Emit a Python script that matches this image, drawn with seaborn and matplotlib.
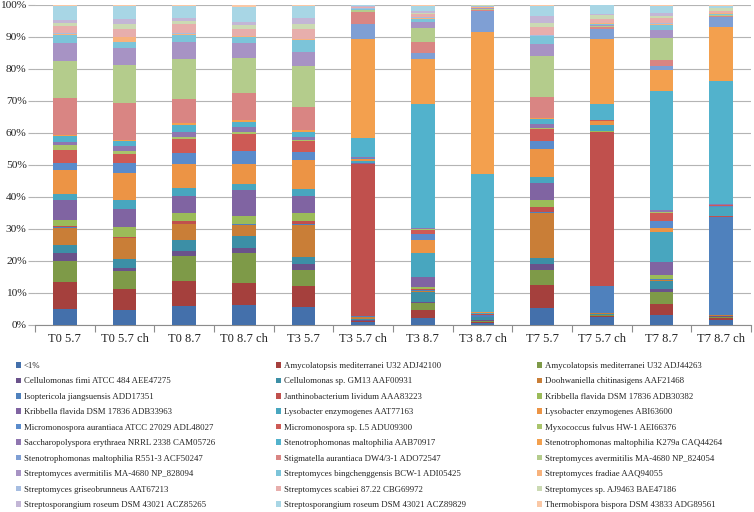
import numpy as np
import pandas as pd
import matplotlib
matplotlib.use("Agg")
import matplotlib.pyplot as plt
import seaborn as sns
from matplotlib.patches import Patch
from matplotlib.ticker import FuncFormatter, FixedLocator

samples = ["T0 5.7", "T0 5.7 ch", "T0 8.7", "T0 8.7 ch", "T3 5.7", "T3 5.7 ch",
           "T3 8.7", "T3 8.7 ch", "T7 5.7", "T7 5.7 ch", "T7 8.7", "T7 8.7 ch"]

species = [
    "<1%",
    "Amycolatopsis mediterranei U32 ADJ42100",
    "Amycolatopsis mediterranei U32 ADJ44263",
    "Cellulomonas fimi ATCC 484 AEE47275",
    "Cellulomonas sp. GM13 AAF00931",
    "Doohwaniella chitinasigens AAF21468",
    "Isoptericola jiangsuensis ADD17351",
    "Janthinobacterium lividum AAA83223",
    "Kribbella flavida DSM 17836 ADB30382",
    "Kribbella flavida DSM 17836 ADB33963",
    "Lysobacter enzymogenes AAT77163",
    "Lysobacter enzymogenes ABI63600",
    "Micromonospora aurantiaca ATCC 27029 ADL48027",
    "Micromonospora sp. L5 ADU09300",
    "Myxococcus fulvus HW-1 AEI66376",
    "Saccharopolyspora erythraea NRRL 2338 CAM05726",
    "Stenotrophomonas maltophilia AAB70917",
    "Stenotrophomonas maltophilia K279a CAQ44264",
    "Stenotrophomonas maltophilia R551-3 ACF50247",
    "Stigmatella aurantiaca DW4/3-1 ADO72547",
    "Streptomyces avermitilis MA-4680 NP_824054",
    "Streptomyces avermitilis MA-4680 NP_828094",
    "Streptomyces bingchenggensis BCW-1 ADI05425",
    "Streptomyces fradiae AAQ94055",
    "Streptomyces griseobrunneus AAT67213",
    "Streptomyces scabiei 87.22 CBG69972",
    "Streptomyces sp. AJ9463 BAE47186",
    "Streptosporangium roseum DSM 43021 ACZ85265",
    "Streptosporangium roseum DSM 43021 ACZ89829",
    "Thermobispora bispora DSM 43833 ADG89561",
]

# relative abundance (%) of each species, same order as above
t0_57 = [5.0, 8.5, 6.6, 2.5, 2.5, 5.3, 0.3, 0.3, 2.0, 6.1, 2.0, 7.4, 2.3, 4.0, 1.4,
         1.2, 1.7, 0.3, 0.1, 11.6, 11.4, 5.8, 2.5, 0.2, 0.2, 2.2, 1.0, 1.0, 4.5, 0.2]
t0_57ch = [4.7, 6.6, 5.5, 1.2, 2.7, 6.5, 0.1, 0.3, 3.3, 5.6, 2.7, 8.6, 3.1, 2.9, 0.7,
           1.7, 1.4, 0.4, 0.1, 11.4, 12.1, 5.3, 1.9, 1.5, 0.1, 2.4, 1.7, 1.5, 4.2, 0.2]
t0_87 = [5.9, 7.9, 7.8, 1.5, 3.4, 5.1, 0.1, 0.8, 2.5, 5.5, 2.3, 7.5, 3.6, 4.2, 0.7,
         1.6, 2.1, 0.8, 0.1, 7.3, 12.6, 5.3, 2.3, 0.2, 0.2, 2.9, 1.0, 0.9, 3.8, 0.3]
t0_87ch = [6.4, 6.7, 9.5, 1.6, 3.7, 3.6, 0.1, 0.2, 2.4, 8.1, 1.9, 6.4, 4.0, 5.2, 0.6,
           1.8, 1.4, 0.6, 0.1, 8.6, 10.8, 4.8, 1.9, 0.2, 0.1, 2.1, 1.4, 0.8, 4.7, 0.7]
t3_57 = [5.7, 6.7, 5.0, 1.8, 2.1, 10.2, 0.1, 1.0, 2.5, 5.5, 2.1, 9.0, 2.6, 3.4, 0.3,
         1.0, 1.7, 0.5, 0.1, 7.3, 12.6, 4.4, 3.9, 0.2, 0.1, 3.1, 1.7, 1.9, 3.7, 0.3]
t3_57ch = [0.8, 0.3, 0.3, 0.2, 0.3, 0.5, 0.4, 47.5, 0.2, 0.2, 0.6, 0.5, 0.4, 0.1, 0.05,
           0.05, 6.2, 30.8, 4.7, 3.9, 0.4, 0.2, 0.2, 0.2, 0.1, 0.3, 0.2, 0.2, 0.2, 0.1]
t3_87 = [2.1, 2.6, 2.1, 0.5, 3.1, 0.3, 0.3, 0.3, 0.6, 3.1, 7.6, 4.1, 1.6, 1.5, 0.2,
         0.3, 38.7, 14.2, 1.9, 3.4, 4.4, 1.8, 0.8, 0.4, 0.3, 0.9, 0.5, 0.4, 1.8, 0.2]
t3_87ch = [0.7, 0.2, 0.3, 0.4, 0.8, 0.2, 0.5, 0.2, 0.1, 0.1, 0.3, 0.2, 0.05, 0.05, 0.0,
           0.0, 43.0, 44.6, 6.4, 0.3, 0.5, 0.2, 0.1, 0.3, 0.1, 0.2, 0.1, 0.05, 0.05, 0.0]
t7_57 = [5.5, 7.2, 4.5, 1.9, 2.1, 14.2, 0.1, 1.8, 2.1, 5.5, 1.9, 8.7, 2.6, 3.6, 0.5,
         1.2, 1.7, 0.2, 0.1, 6.5, 13.0, 3.8, 2.3, 0.2, 0.1, 2.6, 1.3, 2.1, 3.4, 0.2]
t7_57ch = [2.6, 0.2, 0.3, 0.1, 0.1, 0.3, 8.5, 48.2, 0.1, 0.1, 1.8, 1.3, 0.1, 0.1, 0.0,
           0.0, 5.2, 20.2, 3.1, 0.5, 0.4, 0.3, 0.3, 0.3, 0.1, 1.2, 1.2, 0.3, 2.8, 0.1]
t7_87 = [3.0, 3.7, 3.5, 1.1, 2.6, 0.2, 0.2, 0.2, 1.0, 4.1, 9.5, 1.1, 2.3, 2.4, 0.3,
         0.6, 37.2, 6.7, 1.2, 1.9, 6.9, 2.6, 1.6, 0.3, 0.2, 1.5, 0.8, 0.9, 2.2, 0.2]
t7_87ch = [1.6, 0.7, 0.3, 0.1, 0.2, 0.3, 30.4, 0.4, 0.1, 0.1, 2.6, 0.1, 0.2, 0.3, 0.1,
           0.2, 38.5, 16.8, 3.2, 0.3, 0.3, 0.2, 0.2, 0.3, 0.1, 0.6, 0.8, 0.2, 0.6, 0.2]

colors = [
    '#4470ab', '#a5403d', '#7e9a48', '#6a528b', '#3c8fa6', '#c97e37',
    '#4f81bd', '#c0504d', '#9bbb59', '#8064a2', '#48a6bf', '#ec9445',
    '#5a8bcb', '#cd5a55', '#a9c46b', '#8f76b0', '#52b2cc', '#f3a04e',
    '#7f9fd4', '#d98583', '#b4cc8c', '#a793c4', '#7cc4d9', '#f7b27c',
    '#a6bde1', '#e7aeac', '#cbdab3', '#c3b6d6', '#a8d6e5', '#fac8a6',
]

df = pd.DataFrame([t0_57, t0_57ch, t0_87, t0_87ch, t3_57, t3_57ch,
                   t3_87, t3_87ch, t7_57, t7_57ch, t7_87, t7_87ch],
                  index=samples, columns=species)
# 100% stacked
df = df.div(df.sum(axis=1), axis=0) * 100
cum = df.cumsum(axis=1)

sns.set_theme(style="white")
plt.rcParams['font.family'] = ['Liberation Serif', 'DejaVu Serif']

W, H = 754, 512
fig = plt.figure(figsize=(W/100, H/100), dpi=100)
ax = fig.add_axes([35/W, 1-325/H, 716/W, 320/H])

# draw cumulative totals from top layer down so each layer covers the next
for k in range(len(species)-1, -1, -1):
    sns.barplot(x=samples, y=cum.iloc[:, k].values, order=samples,
                color=colors[k], saturation=1, width=0.4, linewidth=0,
                errorbar=None, ax=ax, zorder=3)

ax.set_xlim(-0.5, len(samples)-0.5)
ax.set_ylim(0, 100)
ax.set_xlabel("")
ax.set_ylabel("")
ax.set_yticks(np.arange(0, 101, 10))
ax.yaxis.set_major_formatter(FuncFormatter(lambda v, p: "%d%%" % v))
ax.set_axisbelow(True)
ax.yaxis.grid(True, color='#b4b4b4', linewidth=0.8)
ax.xaxis.grid(False)
for s in ['top', 'right', 'left']:
    ax.spines[s].set_visible(False)
ax.spines['bottom'].set_color('#8c8c8c')
ax.spines['bottom'].set_linewidth(0.8)
ax.tick_params(axis='y', length=5, width=0.8, color='#b4b4b4', pad=1,
               labelsize=8.2, labelcolor='#222222', left=True)
ax.tick_params(axis='x', which='major', length=0, pad=6,
               labelsize=9, labelcolor='#222222')
ax.xaxis.set_minor_locator(FixedLocator(np.arange(-0.5, len(samples), 1)))
ax.tick_params(axis='x', which='minor', length=5, width=0.8, color='#8c8c8c',
               bottom=True)

handles = [Patch(facecolor=c, edgecolor='none') for c in colors]
col_x = [16, 276, 537]
for c in range(3):
    idx = [r*3 + c for r in range(10)]
    fig.legend([handles[i] for i in idx], [species[i] for i in idx],
               loc='upper left', bbox_to_anchor=(col_x[c]/W, 1-362/H),
               frameon=False, fontsize=6.3, handlelength=0.6, handleheight=0.6,
               handletextpad=0.3, labelspacing=0.85, borderpad=0,
               borderaxespad=0, labelcolor='#222222')

fig.savefig("out.png", dpi=100)
